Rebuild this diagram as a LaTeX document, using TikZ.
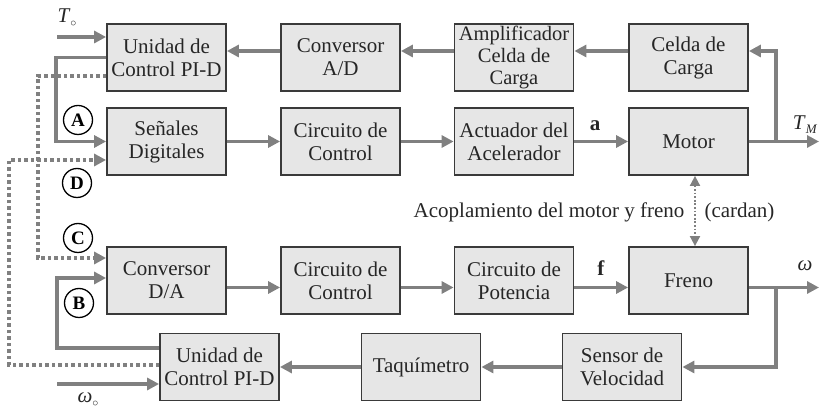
\documentclass[tikz,border=0pt]{standalone}
\usepackage{fontspec}
\setmainfont{Liberation Serif}
\usetikzlibrary{arrows.meta}
\definecolor{boxfill}{HTML}{E6E6E6}
\definecolor{boxdraw}{HTML}{3A3A3A}
\definecolor{arrgray}{HTML}{808080}
\begin{document}
\begin{tikzpicture}[x=1pt,y=-1pt,
  blk/.style={draw=boxdraw, line width=1.8pt, fill=boxfill, minimum width=119pt, minimum height=67pt,
    inner sep=0pt, align=center, font=\fontsize{21}{23}\selectfont, text=black!85},
  flow/.style={draw=arrgray, line width=3.8pt, -{Triangle[length=12pt,width=12pt]}},
  dotline/.style={draw=arrgray, line width=3.8pt, dash pattern=on 3.5pt off 3pt, -{Triangle[length=12pt,width=12pt]}},
  couple/.style={draw=arrgray, line width=1.8pt, dash pattern=on 1.8pt off 1.8pt,
    {Triangle[length=10pt,width=10pt]}-{Triangle[length=10pt,width=10pt]}},
  circlbl/.style={circle, draw=black, line width=1.3pt, minimum size=29pt, inner sep=0pt,
    font=\fontsize{19}{19}\selectfont\bfseries},
  lbl/.style={inner sep=0pt, font=\fontsize{21}{23}\selectfont, text=black!85}]
\useasboundingbox (0,0) rectangle (820,411);

% blocks
\node[blk] (pidA) at (166.5,57.5) {Unidad de\\Control PI-D};
\node[blk] (ad) at (340.5,57.5) {Conversor\\A/D};
\node[blk, font=\fontsize{20.5}{22}\selectfont] (amp) at (514,57.5) {Amplificador\\Celda de\\Carga};
\node[blk] (celda) at (688.5,57.5) {Celda de\\Carga};
\node[blk] (sen) at (166.5,141.5) {Señales\\Digitales};
\node[blk] (cc1) at (340.5,141.5) {Circuito de\\Control};
\node[blk] (act) at (514,141.5) {Actuador del\\Acelerador};
\node[blk] (motor) at (688.5,141.5) {Motor};
\node[blk] (da) at (166.5,280.5) {Conversor\\D/A};
\node[blk] (cc2) at (340.5,280.5) {Circuito de\\Control};
\node[blk] (pot) at (514,280.5) {Circuito de\\Potencia};
\node[blk] (freno) at (688.5,280.5) {Freno};
\node[blk] (pidB) at (219.5,367) {Unidad de\\Control PI-D};
\node[blk] (taq) at (421,367) {Taquímetro};
\node[blk] (sensor) at (622,367) {Sensor de\\Velocidad};

% top row (right to left)
\draw[flow] ([yshift=6.5pt]celda.west) -- ([yshift=6.5pt]amp.east);
\draw[flow] ([yshift=6.5pt]amp.west) -- ([yshift=6.5pt]ad.east);
\draw[flow] ([yshift=6.5pt]ad.west) -- ([yshift=6.5pt]pidA.east);
% second row
\draw[flow] (sen.east) -- (cc1.west);
\draw[flow] (cc1.east) -- (act.west);
\draw[flow] (act.east) -- (motor.west);
% third row
\draw[flow] ([yshift=-7pt]da.east) -- ([yshift=-7pt]cc2.west);
\draw[flow] ([yshift=-7pt]cc2.east) -- ([yshift=-7pt]pot.west);
\draw[flow] ([yshift=-7pt]pot.east) -- ([yshift=-7pt]freno.west);
% bottom row
\draw[flow] (sensor.west) -- (taq.east);
\draw[flow] (taq.west) -- (pidB.east);

% right side outputs and feedback
\coordinate (tmout) at (819,141.5);
\coordinate (tmbr) at (776,141.5);
\draw[flow] (motor.east) -- (tmout);
\draw[flow] (tmbr) |- ([yshift=6.5pt]celda.east);
\coordinate (wout) at (819,287.5);
\coordinate (wbr) at (776,287.5);
\draw[flow] ([yshift=-7pt]freno.east) -- (wout);
\draw[flow] (wbr) |- (sensor.east);

% coupling
\draw[couple] ([xshift=6.5pt]motor.south) -- ([xshift=6.5pt]freno.north);

% left side
\coordinate (t0in) at (57,37);
\draw[flow] (t0in) -- (t0in -| pidA.west);
\draw[flow] (pidA.west) -- ++(-50,0) |- (sen.west);
\coordinate (cturn) at (38,76);
\draw[dotline] ([yshift=-18.5pt]pidA.west) -- (cturn) |- ([yshift=22.5pt]da.west);
\coordinate (dturn) at (9,365);
\draw[dotline] ([yshift=2pt]pidB.west) -- (dturn) |- ([yshift=-18.5pt]sen.west);
\coordinate (bturn) at (57,348);
\draw[flow] ([yshift=19pt]pidB.west) -- (bturn) |- ([yshift=2.5pt]da.west);
\coordinate (w0in) at (57,384);
\draw[flow] (w0in) -- (w0in -| pidB.west);

% circled labels
\node[circlbl] (lA) at (78,120) {A};
\node[circlbl] (lD) at (77,183) {D};
\node[circlbl] (lC) at (78,238) {C};
\node[circlbl] (lB) at (79,303) {B};

% signal labels
\node[lbl] (lt0) at (67,18) {\textit{T}\raisebox{-4pt}{\fontsize{13}{13}\selectfont$\circ$}};
\node[lbl] (ltm) at (805,125) {\textit{T}\raisebox{-4pt}{\fontsize{13}{13}\selectfont\textit{M}}};
\node[lbl] (lw) at (805,266) {\textit{ω}};
\node[lbl] (lw0) at (88,400) {\textit{ω}\raisebox{-4pt}{\fontsize{13}{13}\selectfont$\circ$}};
\node[lbl] (la) at (595,126) {\textbf{a}};
\node[lbl] (lf) at (601,268) {\textbf{f}};
\node[lbl] (acop) at (549,212) {Acoplamiento del motor y freno};
\node[lbl] (card) at (739.5,212) {(cardan)};
\end{tikzpicture}
\end{document}
